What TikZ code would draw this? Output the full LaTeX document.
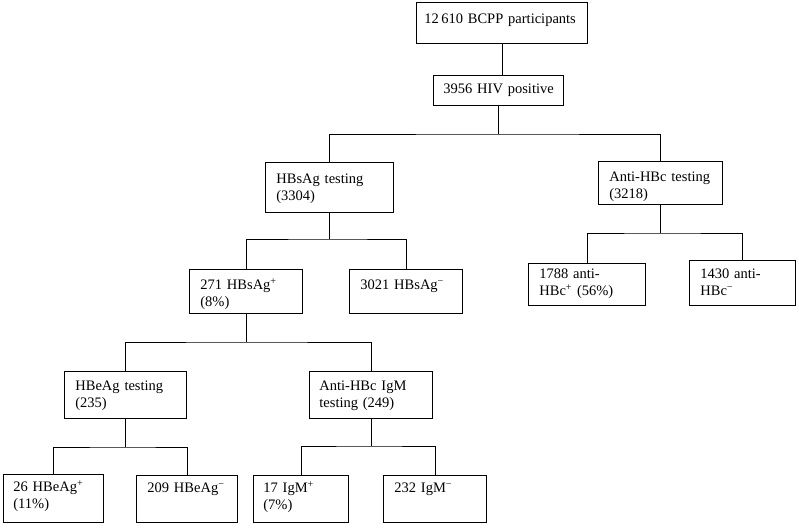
\documentclass[tikz,border=0pt]{standalone}
\usepackage{fontspec}
\setmainfont{Liberation Serif}
\usetikzlibrary{positioning,calc}

\tikzset{
  box/.style={draw, line width=0.8pt, rectangle, anchor=north west, align=left,
    inner xsep=11pt, inner ysep=0pt, font=\fontsize{14.5}{17}\selectfont},
  link/.style={line width=0.8pt}
}

\begin{document}
\begin{tikzpicture}[x=1pt, y=-1pt]
                            \useasboundingbox (0,0) rectangle (799,527);

                            % top of the chart
                            \node[box, inner xsep=8pt, text width=155pt, text height=21pt, text depth=20pt] (bcpp) at (416,2) {12\,610 BCPP participants};
                            \node[box, inner xsep=10pt, text width=110pt, text height=18pt, text depth=12pt] (hiv) at (433,75) {\mbox{3956 HIV positive}};

                            % the two tests
                            \node[box, text width=106pt, text height=21pt, text depth=29pt] (hbsag) at (265,162) {HBsAg testing\\(3304)};
                            \node[box, text width=102pt, text height=20pt, text depth=23pt] (antihbc) at (598,161) {\mbox{Anti-HBc testing}\\(3218)};

                            % HBsAg results
                            \node[box, text width=91pt, text height=20pt, text depth=24pt] (pos271) at (189,269) {271 HBsAg\textsuperscript{+}\\(8\%)};
                            \node[box, text width=91pt, text height=20pt, text depth=24pt] (neg3021) at (349,269) {3021 HBsAg\textsuperscript{−}};

                            % anti-HBc results
                            \node[box, text width=95pt, text height=15pt, text depth=27pt] (pos1788) at (528,263) {1788 anti-\\HBc\textsuperscript{+} (56\%)};
                            \node[box, text width=84pt, text height=18pt, text depth=27pt] (neg1430) at (689,260) {1430 anti-\\HBc\textsuperscript{−}};

                            % follow-up tests
                            \node[box, text width=100pt, text height=19pt, text depth=28pt] (hbeag) at (64,371) {HBeAg testing\\(235)};
                            \node[box, inner xsep=10pt, text width=103pt, text height=19pt, text depth=28pt] (igm) at (309,371) {Anti-HBc IgM\\testing (249)};

                            % bottom row
                            \node[box, inner xsep=10pt, text width=80pt, text height=17pt, text depth=31pt] (pos26) at (3,474) {26 HBeAg\textsuperscript{+}\\(11\%)};
                            \node[box, text width=79pt, text height=17pt, text depth=30pt] (neg209) at (136,475) {209 HBeAg\textsuperscript{−}};
                            \node[box, inner xsep=10pt, text width=75pt, text height=17pt, text depth=30pt] (pos17) at (253,475) {17 IgM\textsuperscript{+}\\(7\%)};
                            \node[box, text width=81pt, text height=17pt, text depth=30pt] (neg232) at (383,475) {232 IgM\textsuperscript{−}};

                            % branch points
                            \coordinate (b1) at (500,134);
                            \coordinate (b2) at (329,239);
                            \coordinate (b3) at (245,342);
                            \coordinate (b4) at (125,447);
                            \coordinate (b5) at (370,446);
                            \coordinate (b6) at (660,233);

                            % connectors
                            \draw[link] (bcpp.south) -- (bcpp.south |- hiv.north);
                            \draw[link] (hiv.south) -- (hiv.south |- b1);
                            \draw[link] (hbsag.north) |- (b1) -| (antihbc.north);
                            \draw[link] (hbsag.south) -- (hbsag.south |- b2);
                            \draw[link] (pos271.north) |- (b2) -| (neg3021.north);
                            \draw[link] (pos271.south) -- (pos271.south |- b3);
                            \draw[link] (hbeag.north) |- (b3) -| (igm.north);
                            \draw[link] (hbeag.south) -- (hbeag.south |- b4);
                            \draw[link] (pos26.north) |- (b4) -| (neg209.north);
                            \draw[link] (igm.south) -- (igm.south |- b5);
                            \draw[link] (pos17.north) |- (b5) -| (neg232.north);
                            \draw[link] (antihbc.south) -- (antihbc.south |- b6);
                            \draw[link] (pos1788.north) |- (b6) -| (neg1430.north);
                        \end{tikzpicture}
\end{document}
